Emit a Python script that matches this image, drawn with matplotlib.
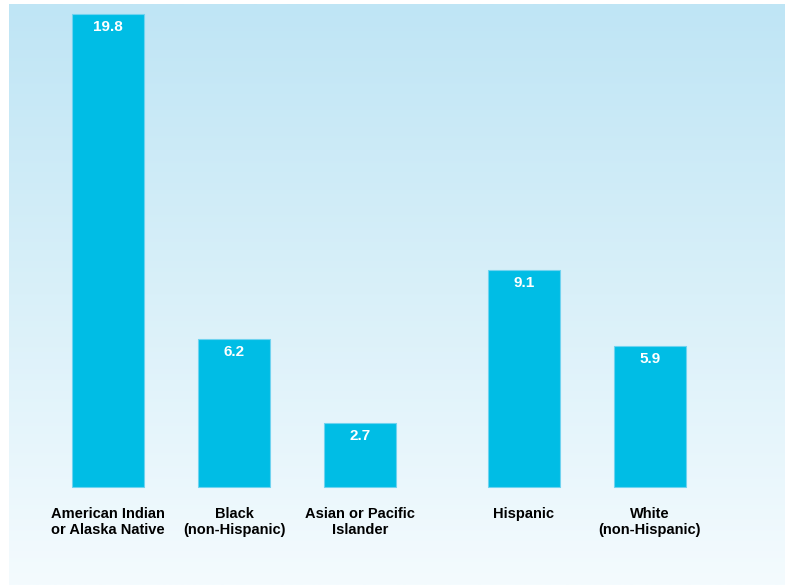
import numpy as np
import matplotlib.pyplot as plt
from matplotlib.colors import LinearSegmentedColormap

groups = ["American Indian\nor Alaska Native", "Black\n(non-Hispanic)",
          "Asian or Pacific\nIslander", "Hispanic", "White\n(non-Hispanic)"]
rates = [19.8, 6.2, 2.7, 9.1, 5.9]
# Hispanic/White sit a little apart from the race groups
slots = [0, 1, 2, 3.3, 4.3]

bar_color = "#00BDE5"
edge_color = "#6FD3F0"

fig = plt.figure(figsize=(7.85, 5.86), dpi=100)
ax = fig.add_axes([9 / 785, 1 - 585 / 586, 776 / 785, 581 / 586])

xmin, xmax = -0.786, 5.373
ymin, ymax = -4.08, 20.2

# soft vertical wash behind the bars
wash = LinearSegmentedColormap.from_list("wash", ["#F4FBFE", "#D9F0F9", "#BFE5F5"])
grad = np.linspace(0, 1, 256).reshape(-1, 1)
ax.imshow(grad, cmap=wash, origin="lower", aspect="auto",
          extent=[xmin, xmax, ymin, ymax], zorder=0)

ax.bar(slots, rates, width=0.575, color=bar_color, edgecolor=edge_color,
       linewidth=0.8, zorder=2)

for x, v in zip(slots, rates):
    ax.text(x, v - 0.55, f"{v}", ha="center", va="center", color="white",
            fontsize=11, fontweight="heavy", family=["Liberation Sans", "DejaVu Sans"],
            zorder=3)

for x, g in zip(slots, groups):
    ax.text(x, -0.82, g, ha="center", va="top", color="black", fontsize=10.5,
            fontweight="bold", linespacing=1.15,
            family=["Liberation Sans", "DejaVu Sans"])

ax.set_xlim(xmin, xmax)
ax.set_ylim(ymin, ymax)
ax.axis("off")

fig.savefig("out.png", dpi=100)
